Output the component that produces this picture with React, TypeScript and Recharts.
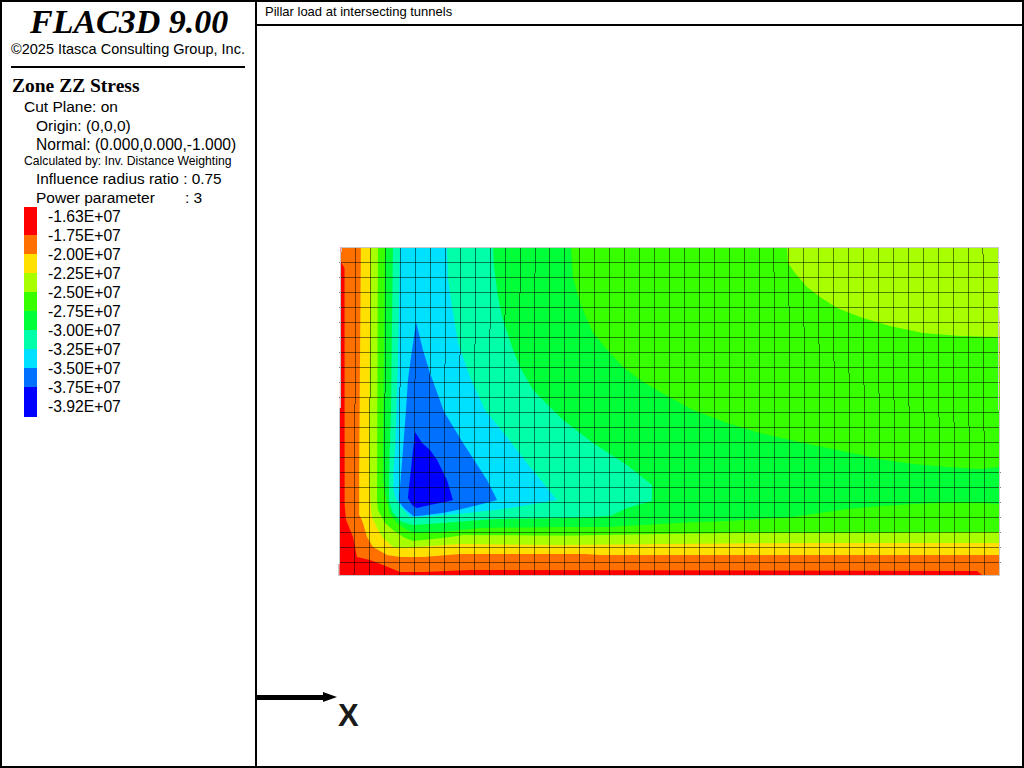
import { ComposedChart, Area, XAxis, YAxis, ReferenceLine } from "recharts";

// Contour bands of the cut plane, outermost first. Each row: [x, lower y, upper y], in zone units.
const redBand = [
  [-0.04, 0.07, 4.8], [0.04, 0.07, 22], [43.87, 0.07, 22], [43.93, 0.07, 18.47], [44, 0.07, 9.47],
];
const orangeBand = [
  [0.07, 21, 22], [0.3, 20.6, 22], [0.31, 4.8, 22], [0.4, 3.8, 22], [0.87, 2.67, 22], [1.13, 1.33, 22],
  [2, 1.13, 22], [2.87, 0.8, 22], [4, 0.33, 22], [5.53, 0.33, 22], [8.67, 0.47, 22], [42.47, 0.4, 22],
  [42.87, 0.07, 22], [43.87, 0.07, 22], [43.93, 0.07, 18.47], [44, 0.07, 9.47],
];
const yellowBand = [
  [1.28, 4.13, 7.13], [1.39, 3.93, 22], [1.53, 3.6, 22], [1.8, 2.67, 22], [2.2, 2, 22], [3.13, 1.47, 22],
  [4, 1.33, 22], [5.53, 1.33, 22], [8, 1.53, 22], [16.33, 1.53, 22], [17.33, 1.47, 22], [43.87, 1.47, 22],
  [43.93, 1.47, 18.47], [44, 1.47, 9.47],
];
const limeBand = [
  [1.95, 6.47, 9.13], [2.04, 4.8, 22], [2.13, 4, 22], [2.47, 3.27, 22], [2.87, 2.6, 22], [3.53, 2, 22],
  [4, 1.93, 22], [8, 2.2, 22], [14.67, 2.13, 22], [21.33, 2.2, 22], [32, 2.27, 22], [43.87, 2.27, 22],
  [43.93, 2.27, 18.47], [44, 2.27, 9.47],
];
const greenBand = [
  [2.47, 5.13, 6.67], [2.53, 4.47, 22], [3, 3.6, 22], [3.53, 3.13, 22], [4.33, 2.6, 22], [4.87, 2.4, 22],
  [6.87, 2.6, 22], [8.2, 2.8, 22], [15.33, 2.77, 22], [21.33, 2.87, 22], [26.67, 2.93, 22], [29.8, 2.93, 22],
  [29.87, 2.93, 20.93], [30.33, 2.93, 20.27], [31.13, 2.93, 19.33], [32, 2.93, 18.67], [33.13, 2.93, 17.93],
  [34.87, 2.93, 17.27], [36.67, 2.95, 16.73], [38.87, 2.97, 16.27], [41.33, 2.98, 16.07], [43.87, 3, 16],
  [43.93, 3, 16], [44, 3, 9.47],
];
const springBand = [
  [2.88, 6.47, 9.13], [3, 5.6, 22], [3.33, 4.27, 22], [3.8, 3.6, 22], [4.47, 3.13, 22], [5, 2.93, 22],
  [6.87, 3, 22], [9.33, 3.27, 22], [14.67, 3.33, 22], [15.4, 3.33, 22], [15.53, 3.33, 20], [16, 3.33, 18.27],
  [16.87, 3.33, 16.27], [18, 3.33, 14.93], [18.87, 3.4, 14], [20, 3.45, 13.13], [21.33, 3.53, 12.33],
  [23.53, 3.65, 11.13], [25.8, 3.73, 10.27], [28, 3.87, 9.6], [30, 3.97, 9.13], [31.53, 4.2, 8.8],
  [33.8, 4.53, 8.33], [36, 4.73, 7.87], [38.2, 4.87, 7.53], [40.47, 4.97, 7.33], [42.67, 4.95, 7.2],
  [44, 4.87, 7.33],
];
const mintBand = [
  [3.27, 5.13, 6.67], [3.4, 4.6, 11.13], [3.53, 4.27, 22], [4.13, 3.67, 22], [4.87, 3.47, 22], [6.87, 3.6, 22],
  [9.33, 3.8, 22], [10.2, 3.85, 22], [10.27, 3.85, 20.67], [10.53, 3.87, 18.67], [10.87, 3.87, 17.13],
  [11.47, 3.88, 15.33], [12, 3.89, 14], [12.87, 3.9, 12.47], [14, 3.92, 11.33], [14.87, 3.93, 10.47],
  [16.87, 4, 8.93], [18, 4.07, 8.2], [19.13, 4.6, 7.47], [20.8, 5.07, 6.13],
];
const cyanBand = [
  [3.57, 5.8, 7.13], [3.67, 5.33, 8.47], [3.87, 4.93, 14.67], [4, 4.73, 22], [4.67, 4, 22], [5.13, 4, 22],
  [7.13, 4.13, 22], [7.2, 4.15, 19.8], [7.47, 4.17, 18], [7.87, 4.2, 15.6], [8.67, 4.29, 13.33],
  [9.67, 4.4, 11.13], [10.47, 4.47, 10.13], [11.13, 4.58, 9.33], [12.67, 4.83, 7.33], [14.47, 5.13, 5.13],
];
const blueBand = [
  [3.93, 5.13, 5.47], [4, 4.93, 6], [4.2, 4.67, 8.47], [4.4, 4.47, 11.13], [4.53, 4.37, 13.13], [4.8, 4.13, 15.13],
  [4.87, 4.07, 15.6], [5.07, 4.07, 17], [5.53, 4.1, 15.13], [6, 4.17, 13.6], [6.93, 4.28, 11.03],
  [8.2, 4.55, 8.93], [9.8, 4.95, 6.47], [10.47, 5.13, 5.13],
];
const deepBlueBand = [
  [4.53, 5.27, 5.33], [4.8, 4.8, 7.8], [5, 4.67, 9.67], [5.13, 4.6, 9.47], [5.47, 4.68, 8.93], [6, 4.8, 8.47],
  [6.47, 4.9, 7.8], [7.13, 5.03, 6.47], [7.53, 5.13, 5.13],
];

const bands = [redBand, orangeBand, yellowBand, limeBand, greenBand, springBand, mintBand, cyanBand, blueBand, deepBlueBand];
const bandColors = ["#ff0000", "#ff7000", "#ffe000", "#a8ff00", "#38ff00", "#00ff38", "#00ffa8", "#00e0ff", "#0070ff", "#0000ff"];
const legendLabels = [
  "-1.63E+07", "-1.75E+07", "-2.00E+07", "-2.25E+07", "-2.50E+07", "-2.75E+07",
  "-3.00E+07", "-3.25E+07", "-3.50E+07", "-3.75E+07", "-3.92E+07",
];
const legendStops = [207, 235, 254, 273, 292, 311, 330, 349, 368, 387, 417];

const meshX = Array.from({ length: 43 }, (_, i) => i + 1);
const meshY = Array.from({ length: 21 }, (_, i) => i + 1);
const outline = [
  [[0.07, 22], [43.87, 22]],
  [[43.87, 22], [44, 0.07]],
  [[44, 0.07], [-0.07, 0.07]],
  [[-0.07, 0.07], [0.07, 22]],
];

const SANS = '"Liberation Sans", Arial, sans-serif';
const SERIF = '"Liberation Serif", "Times New Roman", serif';

function Label({ x, y, size, children, font = SANS, style }: any) {
  return (
    <div
      style={{
        position: "absolute",
        left: x,
        top: y - 15,
        height: 30,
        lineHeight: "30px",
        fontSize: size,
        fontFamily: font,
        whiteSpace: "pre",
        color: "#000",
        ...style,
      }}
    >
      {children}
    </div>
  );
}

function Rule({ x, y, w, h }: any) {
  return <div style={{ position: "absolute", left: x, top: y, width: w, height: h, background: "#000" }} />;
}

export default function App() {
  return (
    <div style={{ position: "fixed", left: 0, top: 0, width: 1024, height: 768, background: "#fff", overflow: "hidden" }}>
      <div style={{ position: "absolute", left: 0, top: 0 }}>
        <ComposedChart width={1024} height={768} margin={{ left: 325, right: 9, top: 232, bottom: 176 }}>
          <XAxis type="number" dataKey="x" domain={[-1, 45]} hide allowDuplicatedCategory={false} />
          <YAxis type="number" domain={[-1, 23]} hide />
          {bands.map((band, i) => (
            <Area
              key={bandColors[i]}
              data={band.map(([x, lo, hi]) => ({ x, range: [lo, hi] }))}
              dataKey="range"
              type="linear"
              fill={bandColors[i]}
              fillOpacity={1}
              stroke="none"
              dot={false}
              activeDot={false}
              isAnimationActive={false}
            />
          ))}
          {meshX.map((k) => (
            <ReferenceLine
              key={"x" + k}
              segment={[
                { x: 0.067 + 0.9953 * k, y: 22 },
                { x: -0.067 + 1.0013 * k, y: 0.07 },
              ]}
              stroke="#000"
              strokeOpacity={0.5}
              shapeRendering="crispEdges"
            />
          ))}
          {meshY.map((k) => (
            <ReferenceLine
              key={"y" + k}
              segment={[
                { x: 0.02 - 0.0045 * k, y: k },
                { x: 43.97 + 0.0045 * (22 - k), y: k },
              ]}
              stroke="#000"
              strokeOpacity={0.5}
              shapeRendering="crispEdges"
            />
          ))}
          {outline.map(([a, b], i) => (
            <ReferenceLine
              key={"edge" + i}
              segment={[
                { x: a[0], y: a[1] },
                { x: b[0], y: b[1] },
              ]}
              stroke="#c8c8c8"
              shapeRendering="crispEdges"
            />
          ))}
        </ComposedChart>
      </div>

      <Rule x={0} y={0} w={1024} h={2} />
      <Rule x={0} y={0} w={2} h={768} />
      <Rule x={0} y={766} w={1024} h={2} />
      <Rule x={1022} y={0} w={2} h={768} />
      <Rule x={255} y={0} w={2} h={768} />
      <Rule x={257} y={24} w={767} h={2} />
      <Rule x={11} y={66} w={234} h={2} />

      <Label x={265} y={12} size={13}>Pillar load at intersecting tunnels</Label>
      <Label x={30} y={22} size={34} font={SERIF} style={{ fontStyle: "italic", fontWeight: "bold" }}>FLAC3D 9.00</Label>
      <Label x={11} y={49} size={14.5}>©2025 Itasca Consulting Group, Inc.</Label>
      <Label x={12} y={86} size={19.5} font={SERIF} style={{ fontWeight: "bold" }}>Zone ZZ Stress</Label>
      <Label x={24} y={107} size={15.5}>Cut Plane: on</Label>
      <Label x={36} y={126} size={15.5}>Origin: (0,0,0)</Label>
      <Label x={36} y={145} size={15.6}>Normal: (0.000,0.000,-1.000)</Label>
      <Label x={24} y={161} size={12.2}>Calculated by: Inv. Distance Weighting</Label>
      <Label x={36} y={179} size={15.4}>Influence radius ratio : 0.75</Label>
      <Label x={36} y={198} size={15.5}>Power parameter</Label>
      <Label x={185} y={198} size={15.5}>: 3</Label>

      {bandColors.map((color, i) => (
        <div
          key={color}
          style={{
            position: "absolute",
            left: 24,
            top: legendStops[i],
            width: 13,
            height: legendStops[i + 1] - legendStops[i],
            background: color,
          }}
        />
      ))}
      {legendLabels.map((label, i) => (
        <Label key={label} x={48} y={217 + i * 19} size={15.7}>{label}</Label>
      ))}

      <svg width={1024} height={768} style={{ position: "absolute", left: 0, top: 0 }}>
        <rect x={257} y={695} width={68} height={5} fill="#000" />
        <path d="M323 692 L337 697 L323 702 Z" fill="#000" />
        <text x={338} y={726} fontFamily={SANS} fontWeight="bold" fontSize={31} fill="#1a1a1a">X</text>
      </svg>
    </div>
  );
}
